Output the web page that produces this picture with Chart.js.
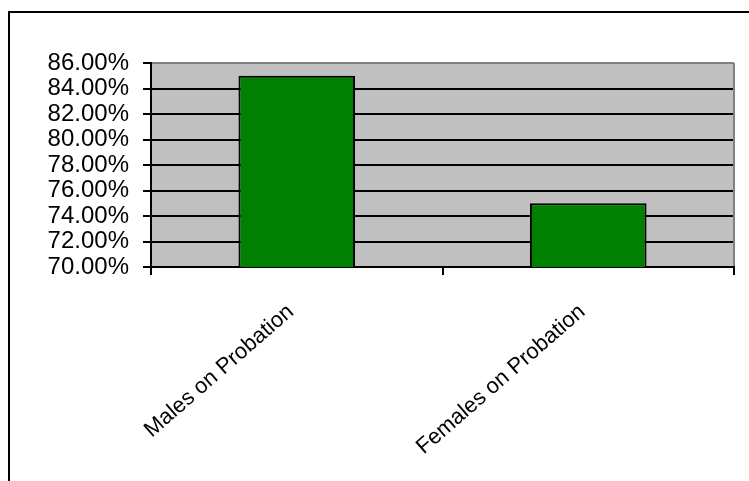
<!DOCTYPE html>
<html>
<head>
<meta charset="utf-8">
<script src="https://cdn.jsdelivr.net/npm/chart.js@4/dist/chart.umd.min.js"></script>
<style>
  html, body { margin: 0; padding: 0; background: #fff; overflow: hidden; }
  canvas { display: block; }
</style>
</head>
<body>
<canvas id="c" width="749" height="481"></canvas>
<script>
// Share of people on probation, by sex (percent)
const categories = ['Males on Probation', 'Females on Probation'];
const probationRates = [85.0, 75.0];
const yMin = 70;
const yMax = 86;
const yStep = 2;

// Grey plot background, grey frame on top/right, and the outer chart border
const framePlugin = {
  id: 'framePlugin',
  beforeDraw(chart) {
    const { ctx, chartArea: a } = chart;
    ctx.save();
    ctx.fillStyle = '#ffffff';
    ctx.fillRect(0, 0, chart.width, chart.height);
    ctx.fillStyle = '#c0c0c0';
    ctx.fillRect(a.left, a.top, a.right - a.left, a.bottom - a.top);
    ctx.restore();
  },
  afterDraw(chart) {
    const { ctx, chartArea: a } = chart;
    ctx.save();
    ctx.strokeStyle = '#808080';
    ctx.lineWidth = 2;
    ctx.beginPath();
    ctx.moveTo(a.right, a.top);
    ctx.lineTo(a.right, a.bottom - 1);
    ctx.stroke();
    // outer border (left and top edges)
    ctx.strokeStyle = '#000';
    ctx.lineWidth = 2;
    ctx.beginPath();
    ctx.moveTo(9, chart.height);
    ctx.lineTo(9, 12);
    ctx.lineTo(chart.width, 12);
    ctx.stroke();
    ctx.restore();
  }
};

new Chart(document.getElementById('c'), {
  type: 'bar',
  data: {
    labels: categories,
    datasets: [{
      data: probationRates,
      backgroundColor: '#008000',
      borderColor: '#000000',
      borderWidth: 2,
      borderSkipped: false,
      barPercentage: 0.4,
      categoryPercentage: 1.0
    }]
  },
  options: {
    responsive: false,
    animation: false,
    devicePixelRatio: 1,
    layout: { padding: { left: 0, top: 63, right: 15, bottom: 0 } },
    plugins: {
      legend: { display: false },
      tooltip: { enabled: false }
    },
    scales: {
      x: {
        offset: true,
        afterFit(scale) { scale.height = 214; },
        border: { display: true, color: '#000', width: 2 },
        grid: {
          offset: true,
          drawOnChartArea: false,
          drawTicks: true,
          tickLength: 8,
          color: '#000',
          lineWidth: 2
        },
        ticks: {
          autoSkip: false,
          minRotation: 41,
          maxRotation: 41,
          padding: 24,
          labelOffset: -6,
          color: '#000',
          font: { family: "'Liberation Sans', Arial, sans-serif", size: 22 }
        }
      },
      y: {
        min: yMin,
        max: yMax,
        afterFit(scale) { scale.width = 151; },
        border: { display: true, color: '#000', width: 2 },
        grid: {
          drawTicks: true,
          tickLength: 8,
          lineWidth: 2,
          color: (c) => (c.tick && c.tick.value === yMax ? '#808080' : '#000'),
          tickColor: '#000'
        },
        ticks: {
          autoSkip: false,
          stepSize: yStep,
          padding: 14,
          color: '#000',
          font: { family: "'Liberation Sans', Arial, sans-serif", size: 24 },
          callback: (v) => Number(v).toFixed(2) + '%'
        }
      }
    }
  },
  plugins: [framePlugin]
});
</script>
</body>
</html>
